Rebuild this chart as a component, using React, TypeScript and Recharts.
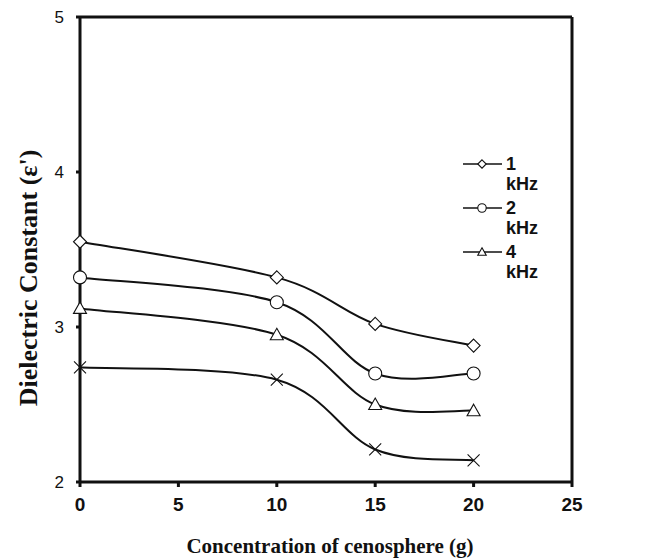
import React from 'react';
import { LineChart, Line, XAxis, YAxis, ReferenceLine, Legend, Label } from 'recharts';

const concentration = [0, 10, 15, 20];
const f1kHz = [3.55, 3.32, 3.02, 2.88];
const f2kHz = [3.32, 3.16, 2.70, 2.70];
const f4kHz = [3.12, 2.95, 2.50, 2.46];
const f8kHz = [2.74, 2.66, 2.21, 2.14];
const xTicks = [0, 5, 10, 15, 20, 25];
const yTicks = [2, 3, 4, 5];

const series = [
  { key: 'k1', name: '1', unit: 'kHz', values: f1kHz, marker: 'diamond', legend: true },
  { key: 'k2', name: '2', unit: 'kHz', values: f2kHz, marker: 'circle', legend: true },
  { key: 'k4', name: '4', unit: 'kHz', values: f4kHz, marker: 'triangle', legend: true },
  { key: 'k8', name: '8', unit: 'kHz', values: f8kHz, marker: 'cross', legend: false },
];

const data = concentration.map((c, i) => {
  const row: any = { c };
  series.forEach((s) => (row[s.key] = s.values[i]));
  return row;
});

// Excel-like smooth curve (Catmull-Rom as cubic Bezier)
function excelCurve(context: any) {
  let pts: number[][] = [];
  return {
    areaStart() {},
    areaEnd() {},
    lineStart() { pts = []; },
    point(x: number, y: number) { pts.push([+x, +y]); },
    lineEnd() {
      if (!pts.length) return;
      context.moveTo(pts[0][0], pts[0][1]);
      for (let i = 0; i < pts.length - 1; i++) {
        const p0 = pts[i - 1] || pts[i];
        const p1 = pts[i];
        const p2 = pts[i + 1];
        const p3 = pts[i + 2] || p2;
        context.bezierCurveTo(
          p1[0] + (p2[0] - p0[0]) / 6, p1[1] + (p2[1] - p0[1]) / 6,
          p2[0] - (p3[0] - p1[0]) / 6, p2[1] - (p3[1] - p1[1]) / 6,
          p2[0], p2[1]
        );
      }
    },
  };
}

function Marker({ type, cx, cy, s = 1 }: { type: string; cx: number; cy: number; s?: number }) {
  const st = { stroke: '#111', strokeWidth: 1.1, fill: '#fff' };
  if (type === 'diamond') {
    const r = 6.5 * s;
    return <path d={`M${cx},${cy - r}L${cx + r},${cy}L${cx},${cy + r}L${cx - r},${cy}Z`} {...st} />;
  }
  if (type === 'circle') return <circle cx={cx} cy={cy} r={6.5 * s} {...st} />;
  if (type === 'triangle') {
    return <path d={`M${cx},${cy - 6.5 * s}L${cx + 6.5 * s},${cy + 5 * s}L${cx - 6.5 * s},${cy + 5 * s}Z`} {...st} />;
  }
  const r = 6 * s;
  return <path d={`M${cx - r},${cy - r}L${cx + r},${cy + r}M${cx + r},${cy - r}L${cx - r},${cy + r}`} stroke="#111" strokeWidth={1.1} fill="none" />;
}

const makeDot = (type: string) => (props: any) => {
  const { cx, cy, index } = props;
  if (cx == null || cy == null) return <g key={index} />;
  return <g key={index}><Marker type={type} cx={cx} cy={cy} /></g>;
};

const LegendContent = () => {
  const items = series.filter((s) => s.legend);
  return (
    <svg width={110} height={140} style={{ display: 'block', overflow: 'visible' }}>
      {items.map((s, i) => {
        const y = 14 + i * 44;
        return (
          <g key={s.key}>
            <line x1={3} x2={42} y1={y} y2={y} stroke="#111" strokeWidth={1.6} />
            <Marker type={s.marker} cx={22} cy={y} s={0.65} />
            <text x={46} y={y + 6} fontFamily="Liberation Sans, Arial" fontWeight="bold" fontSize={18} fill="#111">{s.name}</text>
            <text x={46} y={y + 26} fontFamily="Liberation Sans, Arial" fontWeight="bold" fontSize={18} fill="#111">{s.unit}</text>
          </g>
        );
      })}
    </svg>
  );
};

export default function App() {
  return (
    <div style={{ position: 'absolute', left: 0, top: 0, width: 656, height: 559, background: '#fff' }}>
      <LineChart width={656} height={559} data={data} margin={{ top: 17, right: 84, bottom: 37, left: 20 }}>
        <XAxis
          dataKey="c"
          type="number"
          domain={[0, 25]}
          ticks={xTicks}
          height={40}
          axisLine={{ stroke: '#111', strokeWidth: 3 }}
          tickLine={{ stroke: '#111', strokeWidth: 3 }}
          tickSize={5}
          tickMargin={11}
          tick={{ fill: '#111', fontSize: 19, fontWeight: 'bold', fontFamily: 'Liberation Sans, Arial' }}
        >
          <Label
            content={() => (
              <text x={330} y={553} textAnchor="middle" fontFamily="Liberation Serif, Times New Roman" fontWeight="bold" fontSize={21} fill="#111">
                Concentration of cenosphere (g)
              </text>
            )}
          />
        </XAxis>
        <YAxis
          type="number"
          domain={[2, 5]}
          ticks={yTicks}
          width={60}
          axisLine={{ stroke: '#111', strokeWidth: 3 }}
          tickLine={{ stroke: '#111', strokeWidth: 3 }}
          tickSize={4}
          tickMargin={12}
          tick={{ fill: '#111', fontSize: 17, fontFamily: 'Liberation Sans, Arial' }}
        >
          <Label
            content={() => (
              <text x={37} y={278} transform="rotate(-90, 37, 278)" textAnchor="middle" fontFamily="Liberation Serif, Times New Roman" fontWeight="bold" fontSize={26} fill="#111">
                Dielectric Constant (ε')
              </text>
            )}
          />
        </YAxis>
        <ReferenceLine y={5} stroke="#111" strokeWidth={3} />
        <ReferenceLine x={25} stroke="#111" strokeWidth={3} />
        {series.map((s) => (
          <Line
            key={s.key}
            dataKey={s.key}
            name={s.name}
            type={excelCurve as any}
            stroke="#111"
            strokeWidth={2}
            dot={makeDot(s.marker)}
            activeDot={false}
            isAnimationActive={false}
            legendType="none"
          />
        ))}
        <Legend
          layout="vertical"
          align="center"
          verticalAlign="middle"
          content={<LegendContent />}
          wrapperStyle={{ position: 'absolute', left: 460, top: 150, width: 110, height: 140 }}
        />
      </LineChart>
    </div>
  );
}
